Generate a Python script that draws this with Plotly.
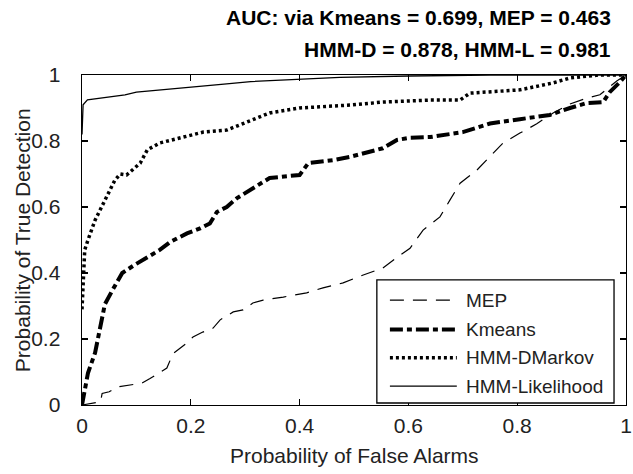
import plotly.graph_objects as go

# ---- data ----
series_names = ["MEP", "Kmeans", "HMM-DMarkov", "HMM-Likelihood"]

mep_x = [0, 0.024, 0.034, 0.037, 0.05, 0.066, 0.088, 0.11, 0.125, 0.143, 0.156, 0.167,
         0.193, 0.204, 0.222, 0.241, 0.254, 0.278, 0.296, 0.314, 0.333, 0.37, 0.413,
         0.443, 0.48, 0.517, 0.553, 0.579, 0.603, 0.627, 0.658, 0.676, 0.695, 0.726,
         0.75, 0.774, 0.805, 0.836, 0.866, 0.897, 0.928, 0.952, 0.983, 1.0]
mep_y = [0, 0.008, 0.01, 0.035, 0.04, 0.055, 0.06, 0.066, 0.08, 0.1, 0.112, 0.155,
         0.188, 0.206, 0.221, 0.233, 0.258, 0.282, 0.288, 0.309, 0.318, 0.327, 0.34,
         0.355, 0.37, 0.394, 0.415, 0.447, 0.475, 0.53, 0.57, 0.62, 0.672, 0.712,
         0.752, 0.794, 0.824, 0.852, 0.885, 0.912, 0.93, 0.94, 0.982, 1.0]

km_x = [0, 0.011, 0.024, 0.037, 0.042, 0.055, 0.074, 0.097, 0.121, 0.143, 0.162, 0.193,
        0.217, 0.235, 0.248, 0.266, 0.285, 0.303, 0.32, 0.345, 0.4, 0.416, 0.461, 0.493,
        0.553, 0.579, 0.603, 0.64, 0.70, 0.75, 0.805, 0.86, 0.897, 0.928, 0.958, 0.97,
        0.989, 1.0]
km_y = [0, 0.097, 0.158, 0.258, 0.305, 0.345, 0.4, 0.425, 0.449, 0.47, 0.494, 0.52,
        0.535, 0.55, 0.585, 0.6, 0.627, 0.645, 0.665, 0.688, 0.697, 0.733, 0.742, 0.752,
        0.778, 0.803, 0.81, 0.812, 0.827, 0.853, 0.866, 0.879, 0.9, 0.915, 0.918, 0.948,
        0.979, 1.0]

dm_x = [0, 0.003, 0.005, 0.011, 0.024, 0.033, 0.048, 0.06, 0.07, 0.082, 0.107, 0.12,
        0.143, 0.18, 0.223, 0.266, 0.309, 0.345, 0.4, 0.493, 0.553, 0.64, 0.695, 0.713,
        0.805, 0.866, 0.897, 0.95, 1.0]
dm_y = [0.29, 0.4, 0.47, 0.5, 0.56, 0.59, 0.64, 0.68, 0.70, 0.697, 0.733, 0.773,
        0.794, 0.81, 0.827, 0.833, 0.862, 0.885, 0.9, 0.909, 0.918, 0.924, 0.924, 0.945,
        0.955, 0.976, 0.991, 1.0, 1.0]

hl_x = [0, 0.002, 0.01, 0.03, 0.042, 0.079, 0.1, 0.185, 0.266, 0.31, 0.4, 0.474, 0.6,
        0.75, 1.0]
hl_y = [0.82, 0.91, 0.925, 0.93, 0.933, 0.94, 0.948, 0.96, 0.973, 0.98, 0.988, 0.993,
        0.997, 1.0, 1.0]

tick_vals = [0, 0.2, 0.4, 0.6, 0.8, 1]
tick_text = ["0", "0.2", "0.4", "0.6", "0.8", "1"]

title_lines = ["AUC: via Kmeans = 0.699, MEP = 0.463",
               "HMM-D = 0.878, HMM-L = 0.981"]
x_title = "Probability of False Alarms"
y_title = "Probability of True Detection"

FONT = "Liberation Sans, Arial, Helvetica, sans-serif"

styles = [
    dict(color="black", width=1.2, dash="14px,9px"),
    dict(color="black", width=4, dash="13px,4px,5px,4px"),
    dict(color="black", width=3.5, dash="3px,3px"),
    dict(color="black", width=1.3, dash="solid"),
]
xs = [mep_x, km_x, dm_x, hl_x]
ys = [mep_y, km_y, dm_y, hl_y]

fig = go.Figure()
for name, x, y, st in zip(series_names, xs, ys, styles):
    fig.add_trace(go.Scatter(x=x, y=y, mode="lines", name=name, line=st,
                             showlegend=False))

axis_common = dict(
    range=[0, 1], tickvals=tick_vals, ticktext=tick_text,
    ticks="inside", ticklen=6, tickwidth=1.2, tickcolor="black",
    showline=True, linecolor="black", linewidth=1.4, mirror="allticks",
    showgrid=False, zeroline=False, automargin=False,
    tickfont=dict(family=FONT, size=21, color="#222"),
)

fig.update_layout(
    width=633, height=474,
    margin=dict(l=82, r=7, t=75, b=69),
    paper_bgcolor="white", plot_bgcolor="white",
    font=dict(family=FONT, color="black"),
    xaxis=dict(axis_common, ticklabelstandoff=1),
    yaxis=dict(axis_common, ticklabelstandoff=16),
    showlegend=False,
)

# axis titles
fig.add_annotation(text=x_title, xref="paper", yref="paper", x=0.5, y=-0.152,
                   xanchor="center", yanchor="middle", showarrow=False,
                   font=dict(family=FONT, size=21, color="#222"))
fig.add_annotation(text=y_title, xref="paper", yref="paper", x=-0.11, y=0.5,
                   xanchor="center", yanchor="middle", textangle=-90, showarrow=False,
                   font=dict(family=FONT, size=21, color="#222"))

# title lines (right aligned, bold)
for txt, yy in zip(title_lines, [1.173, 1.076]):
    fig.add_annotation(text="<b>%s</b>" % txt, xref="paper", yref="paper",
                       x=0.976, y=yy, xanchor="right", yanchor="middle",
                       showarrow=False, font=dict(family=FONT, size=21, color="black"))

# manual legend box
lx0, lx1, ly0, ly1 = 0.542, 0.978, 0.006, 0.379
fig.add_shape(type="rect", xref="paper", yref="paper", x0=lx0, x1=lx1, y0=ly0, y1=ly1,
              line=dict(color="black", width=1.3), fillcolor="white", layer="above")
row_y = [0.318, 0.229, 0.143, 0.057]
for name, st, ry in zip(series_names, styles, row_y):
    fig.add_shape(type="line", xref="paper", yref="paper", x0=0.566, x1=0.689,
                  y0=ry, y1=ry, line=st, layer="above")
    fig.add_annotation(text=name, xref="paper", yref="paper", x=0.703, y=ry,
                       xanchor="left", yanchor="middle", showarrow=False,
                       font=dict(family=FONT, size=19, color="#222"))

fig.write_html("out.html",
               config={"displayModeBar": False, "staticPlot": True},
               post_script="document.body.style.margin='0';document.body.style.overflow='hidden';")
